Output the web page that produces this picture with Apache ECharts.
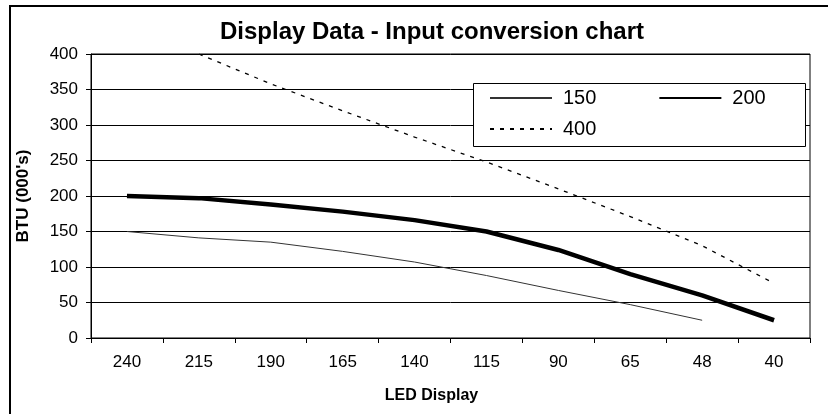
<!DOCTYPE html>
<html>
<head>
<meta charset="utf-8">
<script src="https://cdn.jsdelivr.net/npm/echarts@6/dist/echarts.min.js"></script>
<style>
  html, body { margin: 0; padding: 0; background: #fff; }
  #chart { width: 828px; height: 414px; }
</style>
</head>
<body>
<div id="chart"></div>
<script>
// LED display settings on the x axis
const categories = ['240', '215', '190', '165', '140', '115', '90', '65', '48', '40']
// BTU (000's) per model
const s150 = [150, 141, 135, 122, 107, 88, 67, 47, 25, null]
const s200 = [200, 197, 188, 178, 166, 150, 124, 90, 60, 25]
const s400 = [null, 400, 358, 320, 283, 248, 210, 171, 130, 77]
const yTicks = { min: 0, max: 400, step: 50 }

const font = 'Liberation Sans, Arial, sans-serif'
const legendText = { fontFamily: font, fontSize: 20, color: '#000', padding: [0, 0, 0, 6] }

const chart = echarts.init(document.getElementById('chart'))
chart.setOption({
  animation: false,
  title: {
    text: 'Display Data - Input conversion chart',
    left: 427,
    top: 15,
    textAlign: 'center',
    textStyle: { fontFamily: font, fontSize: 24, fontWeight: 'bold', color: '#000' }
  },
  graphic: [
    // outer chart border (only top and left edges are inside the picture)
    { type: 'rect', shape: { x: 10, y: 6, width: 840, height: 430 },
      style: { fill: 'none', stroke: '#000', lineWidth: 2 }, z: 0 },
    // legend box
    { type: 'rect', shape: { x: 473.5, y: 83.5, width: 332, height: 63 },
      style: { fill: '#fff', stroke: '#000', lineWidth: 1 }, z: 5 }
  ],
  legend: [
    {
      data: ['150', '200'],
      left: 489, top: 88, padding: 0,
      itemWidth: 62, itemHeight: 20, itemGap: 62,
      itemStyle: { opacity: 0 },
      textStyle: legendText,
      z: 10
    },
    {
      data: ['400'],
      left: 489, top: 119, padding: 0,
      itemWidth: 62, itemHeight: 20,
      itemStyle: { opacity: 0 },
      textStyle: legendText,
      z: 10
    }
  ],
  grid: {
    left: 91, right: 18, top: 54, bottom: 76,
    show: true, borderColor: '#000', borderWidth: 1
  },
  xAxis: {
    type: 'category',
    data: categories,
    boundaryGap: true,
    name: 'LED Display',
    nameLocation: 'middle',
    nameGap: 50,
    nameTextStyle: { fontFamily: font, fontSize: 16, fontWeight: 'bold', color: '#000', padding: [0, 38, 0, 0] },
    axisLine: { lineStyle: { color: '#000', width: 1 } },
    axisTick: { show: true, alignWithLabel: false, length: 5, lineStyle: { color: '#000' } },
    axisLabel: { fontFamily: font, fontSize: 17, color: '#000', margin: 16 },
    splitLine: { show: false }
  },
  yAxis: {
    type: 'value',
    min: yTicks.min, max: yTicks.max, interval: yTicks.step,
    name: "BTU (000's)",
    nameLocation: 'middle',
    nameGap: 59,
    nameTextStyle: { fontFamily: font, fontSize: 17, fontWeight: 'bold', color: '#000' },
    axisLine: { show: true, lineStyle: { color: '#000', width: 1 } },
    axisTick: { show: true, length: 5, lineStyle: { color: '#000' } },
    axisLabel: { fontFamily: font, fontSize: 17, color: '#000', margin: 13 },
    splitLine: { show: true, lineStyle: { color: '#000', width: 1 } }
  },
  series: [
    {
      name: '150', type: 'line', data: s150, symbol: 'none',
      lineStyle: { color: '#333', width: 1 }, itemStyle: { color: '#333' }
    },
    {
      name: '200', type: 'line', data: s200, symbol: 'none',
      lineStyle: { color: '#000', width: 4.5 }, itemStyle: { color: '#000' }
    },
    {
      name: '400', type: 'line', data: s400, symbol: 'none',
      lineStyle: { color: '#000', width: 1.3, type: [4, 6] }, itemStyle: { color: '#000' }
    }
  ]
})
</script>
</body>
</html>
